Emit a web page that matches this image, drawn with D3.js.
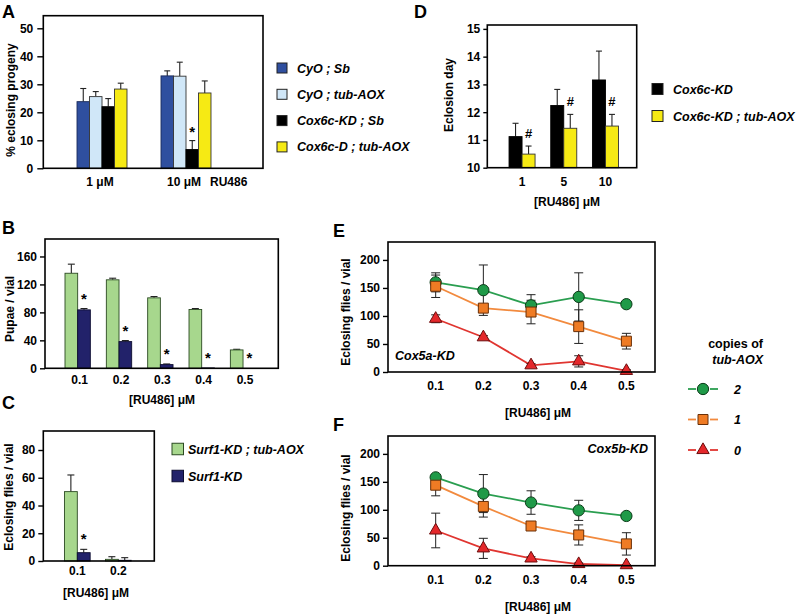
<!DOCTYPE html>
<html><head><meta charset="utf-8">
<script src="https://cdn.jsdelivr.net/npm/d3@7"></script>
<style>body{margin:0;background:#fff;} svg{display:block;}</style>
</head><body>
<svg id="chart" width="798" height="615"></svg>
<script>
// ---------------- DATA ----------------
// Panel A: % eclosing progeny
const aGroups = ["1 μM", "10 μM"];
const aSeries = ["CyO ; Sb", "CyO ; tub-AOX", "Cox6c-KD ; Sb", "Cox6c-D ; tub-AOX"];
const aCyOSb = [23.8, 33.0];
const aCyOSbErr = [4.7, 1.8];
const aCyOAOX = [25.6, 32.9];
const aCyOAOXErr = [1.8, 5.0];
const aKDSb = [22.0, 6.7];
const aKDSbErr = [2.9, 3.2];
const aKDAOX = [28.3, 26.9];
const aKDAOXErr = [2.1, 4.3];
const aTicks = [0, 10, 20, 30, 40, 50];

// Panel D: eclosion day
const dGroups = ["1", "5", "10"];
const dSeries = ["Cox6c-KD", "Cox6c-KD ; tub-AOX"];
const dKD = [11.12, 12.24, 13.16];
const dKDErr = [0.48, 0.58, 1.04];
const dAOX = [10.49, 11.42, 11.5];
const dAOXErr = [0.29, 0.50, 0.42];
const dTicks = [10, 11, 12, 13, 14, 15];

// Panel B: pupae / vial
const bGroups = ["0.1", "0.2", "0.3", "0.4", "0.5"];
const bAOX = [136, 126.6, 100.8, 84.1, 26.3];
const bAOXErr = [13, 2.3, 1.9, 1.4, 0.9];
const bKD = [83.6, 38.2, 5.3, 0.5, 0];
const bKDErr = [1.9, 1.5, 0.9, 0, 0];
const bTicks = [0, 40, 80, 120, 160];

// Panel C: eclosing flies / vial
const cGroups = ["0.1", "0.2"];
const cSeries = ["Surf1-KD ; tub-AOX", "Surf1-KD"];
const cAOX = [50, 1.2];
const cAOXErr = [12, 1.9];
const cKD = [6.0, 0.5];
const cKDErr = [2.4, 1.9];
const cTicks = [0, 20, 40, 60, 80];

// Panels E and F: eclosing flies / vial vs RU486
const ruDoses = [0.1, 0.2, 0.3, 0.4, 0.5];
const lineTicks = [0, 50, 100, 150, 200];
const copies = ["2", "1", "0"];
const eTwo = [160, 146, 119, 134, 121];
const eTwoErr = [17, 45, 19, 43, 0];
const eOne = [153, 114, 107, 81, 55];
const eOneErr = [20, 4, 21, 30, 14];
const eZero = [95, 62, 12, 19, 2];
const eZeroErr = [7, 3, 3, 10, 2];
const fTwo = [158, 129, 113, 99, 89];
const fTwoErr = [5, 34, 21, 18, 3];
const fOne = [144, 106, 71, 55, 39];
const fOneErr = [19, 19, 4, 18, 20];
const fZero = [63, 31, 13, 3, 1];
const fZeroErr = [31, 18, 3, 2, 1];

// ---------------- DRAWING ----------------
const FONT = '"Liberation Sans", Arial, Helvetica, sans-serif';
const svg = d3.select("#chart");
svg.append("rect").attr("width", 798).attr("height", 615).attr("fill", "#fff");

function txt(x, y, s, o = {}) {
  const t = svg.append("text").attr("x", x).attr("y", y).text(s)
    .attr("font-family", FONT).attr("font-weight", "bold")
    .attr("font-size", o.size || 12).attr("text-anchor", o.anchor || "start")
    .attr("fill", "#000");
  if (o.italic) t.attr("font-style", "italic");
  if (o.rotate) t.attr("transform", `rotate(-90 ${x} ${y})`);
  return t;
}
function frame(x0, y0, x1, y1) {
  svg.append("rect").attr("x", x0).attr("y", y0).attr("width", x1 - x0).attr("height", y1 - y0)
    .attr("fill", "none").attr("stroke", "#000").attr("stroke-width", 1.6);
}
function yAxis(scale, x, ticks, size, pad) {
  const g = svg.append("g").attr("transform", `translate(${x},0)`)
    .call(d3.axisLeft(scale).tickValues(ticks).tickFormat(d3.format("d")).tickSize(size).tickPadding(pad));
  g.attr("font-family", FONT).attr("font-size", 12).attr("font-weight", "bold");
  g.select(".domain").remove();
  g.selectAll(".tick line").attr("stroke", "#000").attr("stroke-width", 1.4);
  g.selectAll(".tick text").attr("fill", "#000");
}
function barChart(groups, series, xRange, frac, y, cap, baseY) {
  const x = d3.scaleBand().domain(groups).range(xRange);
  const w = x.bandwidth() * frac;
  const xi = d3.scaleBand().domain(d3.range(series.length))
    .range([(x.bandwidth() - w) / 2, (x.bandwidth() + w) / 2]);
  const flat = [];
  series.forEach((s, si) => groups.forEach((g, gi) =>
    flat.push({ g, si, v: s.values[gi], e: s.err[gi], color: s.color, stroke: s.stroke })));
  const gg = svg.append("g");
  gg.selectAll("line.err").data(flat.filter(d => d.e > 0)).join("line")
    .attr("x1", d => x(d.g) + xi(d.si) + xi.bandwidth() / 2)
    .attr("x2", d => x(d.g) + xi(d.si) + xi.bandwidth() / 2)
    .attr("y1", d => y(d.v)).attr("y2", d => y(d.v + d.e))
    .attr("stroke", "#222").attr("stroke-width", 1.1);
  gg.selectAll("line.cap").data(flat.filter(d => d.e > 0)).join("line")
    .attr("x1", d => x(d.g) + xi(d.si) + xi.bandwidth() / 2 - cap / 2)
    .attr("x2", d => x(d.g) + xi(d.si) + xi.bandwidth() / 2 + cap / 2)
    .attr("y1", d => y(d.v + d.e)).attr("y2", d => y(d.v + d.e))
    .attr("stroke", "#222").attr("stroke-width", 1.1);
  gg.selectAll("rect").data(flat).join("rect")
    .attr("x", d => x(d.g) + xi(d.si)).attr("width", xi.bandwidth())
    .attr("y", d => y(d.v)).attr("height", d => Math.max(0, y(baseY) - y(d.v)))
    .attr("fill", d => d.color).attr("stroke", d => d.stroke).attr("stroke-width", 0.9);
  return { x, xi };
}
function marks(sc, groups, values, err, si, sym, yOff, size) {
  groups.forEach((g, gi) => {
    const cx = sc.x(g) + sc.xi(si) + sc.xi.bandwidth() / 2;
    txt(cx, sc.y(values[gi] + err[gi]) - yOff, sym, { anchor: "middle", size: size });
  });
}
function square(x, yc, s, color, stroke) {
  svg.append("rect").attr("x", x).attr("y", yc - s / 2).attr("width", s).attr("height", s)
    .attr("fill", color).attr("stroke", stroke).attr("stroke-width", 1);
}

const BLUE = "#2f4f9f", LBLUE = "#d0e7f8", YEL = "#f6ea14", BLK = "#000";
const LGREEN = "#a7d78d", NAVY = "#22226a";

// ===== Panel A =====
{
  const y = d3.scaleLinear().domain([0, 54.5]).range([168.3, 15.7]);
  const sc = barChart(aGroups, [
    { values: aCyOSb, err: aCyOSbErr, color: BLUE, stroke: "#1a2a5a" },
    { values: aCyOAOX, err: aCyOAOXErr, color: LBLUE, stroke: "#333" },
    { values: aKDSb, err: aKDSbErr, color: BLK, stroke: "#000" },
    { values: aKDAOX, err: aKDAOXErr, color: YEL, stroke: "#333" }
  ], [60, 228], 0.595, y, 6, 0);
  sc.y = y;
  frame(43.3, 15.7, 263, 168.3);
  yAxis(y, 43.3, aTicks, 6, 4);
  aGroups.forEach(g => txt(sc.x(g) + sc.x.bandwidth() / 2 - 2, 186, g, { anchor: "middle" }));
  txt(210, 186, "RU486");
  const cx = sc.x(aGroups[1]) + sc.xi(2) + sc.xi.bandwidth() / 2;
  txt(cx, y(aKDSb[1] + aKDSbErr[1]) - 4, "*", { anchor: "middle", size: 15 });
  txt(14.5, 100, "% eclosing progeny", { anchor: "middle", rotate: true });
  txt(2, 18, "A", { size: 18 });
  const legCols = [BLUE, LBLUE, BLK, YEL];
  aSeries.forEach((s, i) => {
    const yc = 68 + i * 26.3;
    square(277, yc, 10, legCols[i], "#222");
    txt(297, yc + 4.5, s, { italic: true, size: 12.5 });
  });
}

// ===== Panel D =====
{
  const y = d3.scaleLinear().domain([10, 15.14]).range([167.7, 25]);
  const sc = barChart(dGroups, [
    { values: dKD, err: dKDErr, color: BLK, stroke: "#000" },
    { values: dAOX, err: dAOXErr, color: YEL, stroke: "#333" }
  ], [501.2, 626.3], 0.624, y, 6, 10);
  sc.y = y;
  frame(487.3, 25, 636.7, 167.7);
  yAxis(y, 487.3, dTicks, 4, 3);
  dGroups.forEach(g => txt(sc.x(g) + sc.x.bandwidth() / 2, 186, g, { anchor: "middle" }));
  marks(sc, dGroups, dAOX, dAOXErr, 1, "#", 8, 13);
  txt(567, 206, "[RU486] μM", { anchor: "middle" });
  txt(452.5, 95, "Eclosion day", { anchor: "middle", rotate: true });
  txt(414, 18, "D", { size: 18 });
  [BLK, YEL].forEach((c, i) => {
    const yc = 89 + i * 27;
    square(652, yc, 11, c, "#222");
    txt(673, yc + 4.5, dSeries[i], { italic: true, size: 12.5 });
  });
}

// ===== Panel B =====
{
  const y = d3.scaleLinear().domain([0, 185]).range([368.3, 239]);
  const sc = barChart(bGroups, [
    { values: bAOX, err: bAOXErr, color: LGREEN, stroke: "#2b4a22" },
    { values: bKD, err: bKDErr, color: NAVY, stroke: "#0d0d30" }
  ], [57, 263.7], 0.613, y, 7, 0);
  sc.y = y;
  frame(45, 239, 278.3, 368.3);
  yAxis(y, 45, bTicks, 5, 3);
  bGroups.forEach(g => txt(sc.x(g) + sc.x.bandwidth() / 2 + 2, 384, g, { anchor: "middle" }));
  marks(sc, bGroups, bKD, bKDErr, 1, "*", 5, 15);
  txt(162, 404, "[RU486] μM", { anchor: "middle" });
  txt(13.5, 309, "Pupae / vial", { anchor: "middle", rotate: true });
  txt(2, 234, "B", { size: 18 });
}

// ===== Panel C =====
{
  const y = d3.scaleLinear().domain([0, 93.7]).range([561, 431]);
  const sc = barChart(cGroups, [
    { values: cAOX, err: cAOXErr, color: LGREEN, stroke: "#2b4a22" },
    { values: cKD, err: cKDErr, color: NAVY, stroke: "#0d0d30" }
  ], [56.8, 138.8], 0.627, y, 7, 0);
  sc.y = y;
  frame(43.3, 431, 154.3, 561);
  yAxis(y, 43.3, cTicks, 5, 3);
  cGroups.forEach(g => txt(sc.x(g) + sc.x.bandwidth() / 2, 575, g, { anchor: "middle" }));
  txt(sc.x(cGroups[0]) + sc.xi(1) + sc.xi.bandwidth() / 2, y(cKD[0] + cKDErr[0]) - 5, "*", { anchor: "middle", size: 15 });
  txt(96, 597, "[RU486] μM", { anchor: "middle" });
  txt(12.5, 497, "Eclosing flies / vial", { anchor: "middle", rotate: true });
  txt(2, 409, "C", { size: 18 });
  [LGREEN, NAVY].forEach((c, i) => {
    const yc = 449 + i * 27;
    square(172, yc, 11.5, c, i ? "#0d0d30" : "#2b4a22");
    txt(188, yc + 4.5, cSeries[i], { italic: true, size: 12.5 });
  });
}

// ===== Panels E & F =====
const GREEN = "#1f9a48", ORANGE = "#ef7b24", RED = "#e4282b";
const LINE_COLS = ["#2a9e50", "#f28a3e", "#e03530"];
const MK_STROKE = ["#0b3b18", "#6a3008", "#6b0d0d"];
function symFor(i) {
  if (i === 0) return d3.symbol().type(d3.symbolCircle).size(100)();
  if (i === 1) return d3.symbol().type(d3.symbolSquare).size(100)();
  return d3.symbol().type(d3.symbolTriangle).size(66)();
}
function linePanel(top, bottom, series, label, labelPos) {
  const x = d3.scaleLinear().domain([0, 0.56]).range([388, 655]);
  const y = d3.scaleLinear().domain([0, 232]).range([bottom, top]);
  const g = svg.append("g");
  series.forEach((s, i) => {
    g.append("path").datum(ruDoses.map((d, k) => [d, s.v[k]]))
      .attr("d", d3.line().x(d => x(d[0])).y(d => y(d[1])))
      .attr("fill", "none").attr("stroke", LINE_COLS[i]).attr("stroke-width", 1.8);
  });
  series.forEach((s) => {
    ruDoses.forEach((d, k) => {
      const e = s.e[k];
      if (!(e > 0)) return;
      const cx = x(d);
      g.append("line").attr("x1", cx).attr("x2", cx).attr("y1", y(Math.max(0, s.v[k] - e))).attr("y2", y(s.v[k] + e))
        .attr("stroke", "#222").attr("stroke-width", 1);
      [s.v[k] - e, s.v[k] + e].forEach(v => {
        if (v < 0) return;
        g.append("line").attr("x1", cx - 4.5).attr("x2", cx + 4.5).attr("y1", y(v)).attr("y2", y(v))
          .attr("stroke", "#222").attr("stroke-width", 1);
      });
    });
  });
  series.forEach((s, i) => {
    g.selectAll(null).data(ruDoses.map((d, k) => [d, s.v[k]])).join("path")
      .attr("transform", d => `translate(${x(d[0])},${y(d[1])})`)
      .attr("d", symFor(i)).attr("fill", [GREEN, ORANGE, RED][i])
      .attr("stroke", MK_STROKE[i]).attr("stroke-width", 1);
  });
  frame(388, top, 655, bottom);
  yAxis(y, 388, lineTicks, 5, 3);
  ruDoses.forEach(d => txt(x(d), bottom + 18, d3.format(".1f")(d), { anchor: "middle" }));
  txt(538, bottom + 45, "[RU486] μM", { anchor: "middle" });
  txt(labelPos[0], labelPos[1], label.text, { italic: true, size: 12.5, anchor: label.anchor });
}
linePanel(242, 372, [
  { v: eTwo, e: eTwoErr }, { v: eOne, e: eOneErr }, { v: eZero, e: eZeroErr }
], { text: "Cox5a-KD", anchor: "start" }, [395, 360]);
txt(349.5, 312, "Eclosing flies / vial", { anchor: "middle", rotate: true });
txt(333, 237, "E", { size: 18 });

linePanel(436, 565.7, [
  { v: fTwo, e: fTwoErr }, { v: fOne, e: fOneErr }, { v: fZero, e: fZeroErr }
], { text: "Cox5b-KD", anchor: "end" }, [648, 453]);
txt(349.5, 508, "Eclosing flies / vial", { anchor: "middle", rotate: true });
txt(333, 431, "F", { size: 18 });

// Legend for E/F
txt(763, 348, "copies of", { anchor: "end", size: 12.5 });
txt(763, 363.5, "tub-AOX", { anchor: "end", size: 12.5, italic: true });
copies.forEach((c, i) => {
  const yc = 389 + i * 30.5;
  [[688, 696], [710, 718]].forEach(([a, b]) =>
    svg.append("line").attr("x1", a).attr("x2", b).attr("y1", yc).attr("y2", yc)
      .attr("stroke", LINE_COLS[i]).attr("stroke-width", 1.8));
  svg.append("path").attr("transform", `translate(703,${yc})`).attr("d", symFor(i))
    .attr("fill", [GREEN, ORANGE, RED][i]).attr("stroke", MK_STROKE[i]).attr("stroke-width", 1);
  txt(734, yc + 4.5, c, { italic: true, size: 12.5 });
});
</script>
</body></html>
